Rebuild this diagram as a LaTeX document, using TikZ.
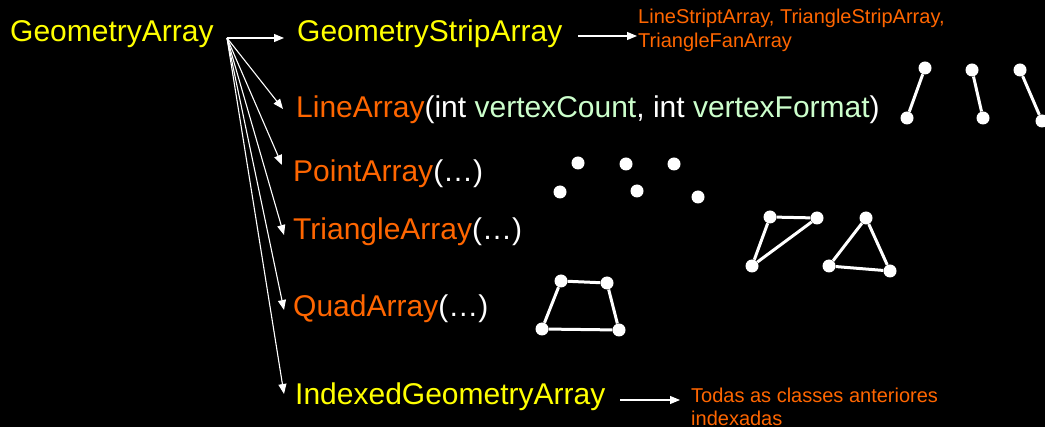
\documentclass[tikz,border=0pt]{standalone}
\usepackage{fontspec}
\setmainfont{Liberation Sans}
\usetikzlibrary{arrows.meta}
\definecolor{ylw}{HTML}{FFFF00}
\definecolor{org}{HTML}{FF6600}
\definecolor{grn}{HTML}{CCFFCC}
\begin{document}
\begin{tikzpicture}[x=1pt,y=-1pt,
  big/.style={font=\fontsize{30}{34}\selectfont, inner sep=0pt, anchor=base west},
  small/.style={font=\fontsize{20}{23}\selectfont, inner sep=0pt, anchor=base west, text=org},
  arr/.style={white, line width=1.1pt, -{Triangle[length=10pt,width=8pt]}},
  dot/.style={circle, fill=white, inner sep=0pt, minimum size=13pt},
  seg/.style={white, line width=3pt}]
\fill[black] (0,0) rectangle (1045,427);
\useasboundingbox (0,0) rectangle (1045,427);

% texts
\node[big,text=ylw] (GA) at (10,42) {GeometryArray};
\node[big,text=ylw] (GSA) at (297,42) {GeometryStripArray};
\node[big] (LA) at (296,118) {\textcolor{org}{LineArray}\textcolor{white}{(int }\textcolor{grn}{vertexCount}\textcolor{white}{, int }\textcolor{grn}{vertexFormat}\textcolor{white}{)}};
\node[big] (PA) at (293,182) {\textcolor{org}{PointArray}\textcolor{white}{(…)}};
\node[big] (TA) at (293,240) {\textcolor{org}{TriangleArray}\textcolor{white}{(…)}};
\node[big] (QA) at (293,317) {\textcolor{org}{QuadArray}\textcolor{white}{(…)}};
\node[big,text=ylw] (IGA) at (295,405) {IndexedGeometryArray};

\node[small] (S1) at (638,24) {LineStriptArray, TriangleStripArray,};
\node[small] (S2) at (638,48) {TriangleFanArray};
\node[small] (T1) at (691,403) {Todas as classes anteriores};
\node[small] (T2) at (691,426) {indexadas};

% connectors
\coordinate (hub) at (227,38);
\coordinate (tGSA) at (284,38);
\coordinate (tLA) at (283,109);
\coordinate (tPA) at (282,165);
\coordinate (tTA) at (284,235);
\coordinate (tQA) at (284,310);
\coordinate (tIGA) at (284,394);
\foreach \t in {tGSA,tLA,tPA,tTA,tQA,tIGA} \draw[arr] (hub) -- (\t);

\coordinate (sS) at (578,36);
\coordinate (eS) at (637,36);
\draw[arr] (sS) -- (eS);
\coordinate (sT) at (620,400);
\coordinate (eT) at (680,400);
\draw[arr] (sT) -- (eT);

% line pairs
\node[dot] (l1a) at (925,68) {};
\node[dot] (l1b) at (907,118) {};
\node[dot] (l2a) at (972,70) {};
\node[dot] (l2b) at (983,118) {};
\node[dot] (l3a) at (1020,70) {};
\node[dot] (l3b) at (1042,121) {};
\draw[seg] (l1a) -- (l1b);
\draw[seg] (l2a) -- (l2b);
\draw[seg] (l3a) -- (l3b);

% points
\node[dot] (p1) at (578,163) {};
\node[dot] (p2) at (626,164) {};
\node[dot] (p3) at (674,164) {};
\node[dot] (p4) at (560,192) {};
\node[dot] (p5) at (637,191) {};
\node[dot] (p6) at (698,197) {};

% triangles
\node[dot] (a1) at (770,217) {};
\node[dot] (a2) at (817,218) {};
\node[dot] (a3) at (752,266) {};
\draw[seg] (a1) -- (a2) -- (a3) -- (a1);
\node[dot] (b1) at (866,218) {};
\node[dot] (b2) at (829,266) {};
\node[dot] (b3) at (890,271) {};
\draw[seg] (b1) -- (b2) -- (b3) -- (b1);

% quad
\node[dot] (q1) at (561,281) {};
\node[dot] (q2) at (607,283) {};
\node[dot] (q3) at (619,330) {};
\node[dot] (q4) at (542,329) {};
\draw[seg] (q1) -- (q2) -- (q3) -- (q4) -- (q1);
\end{tikzpicture}
\end{document}
